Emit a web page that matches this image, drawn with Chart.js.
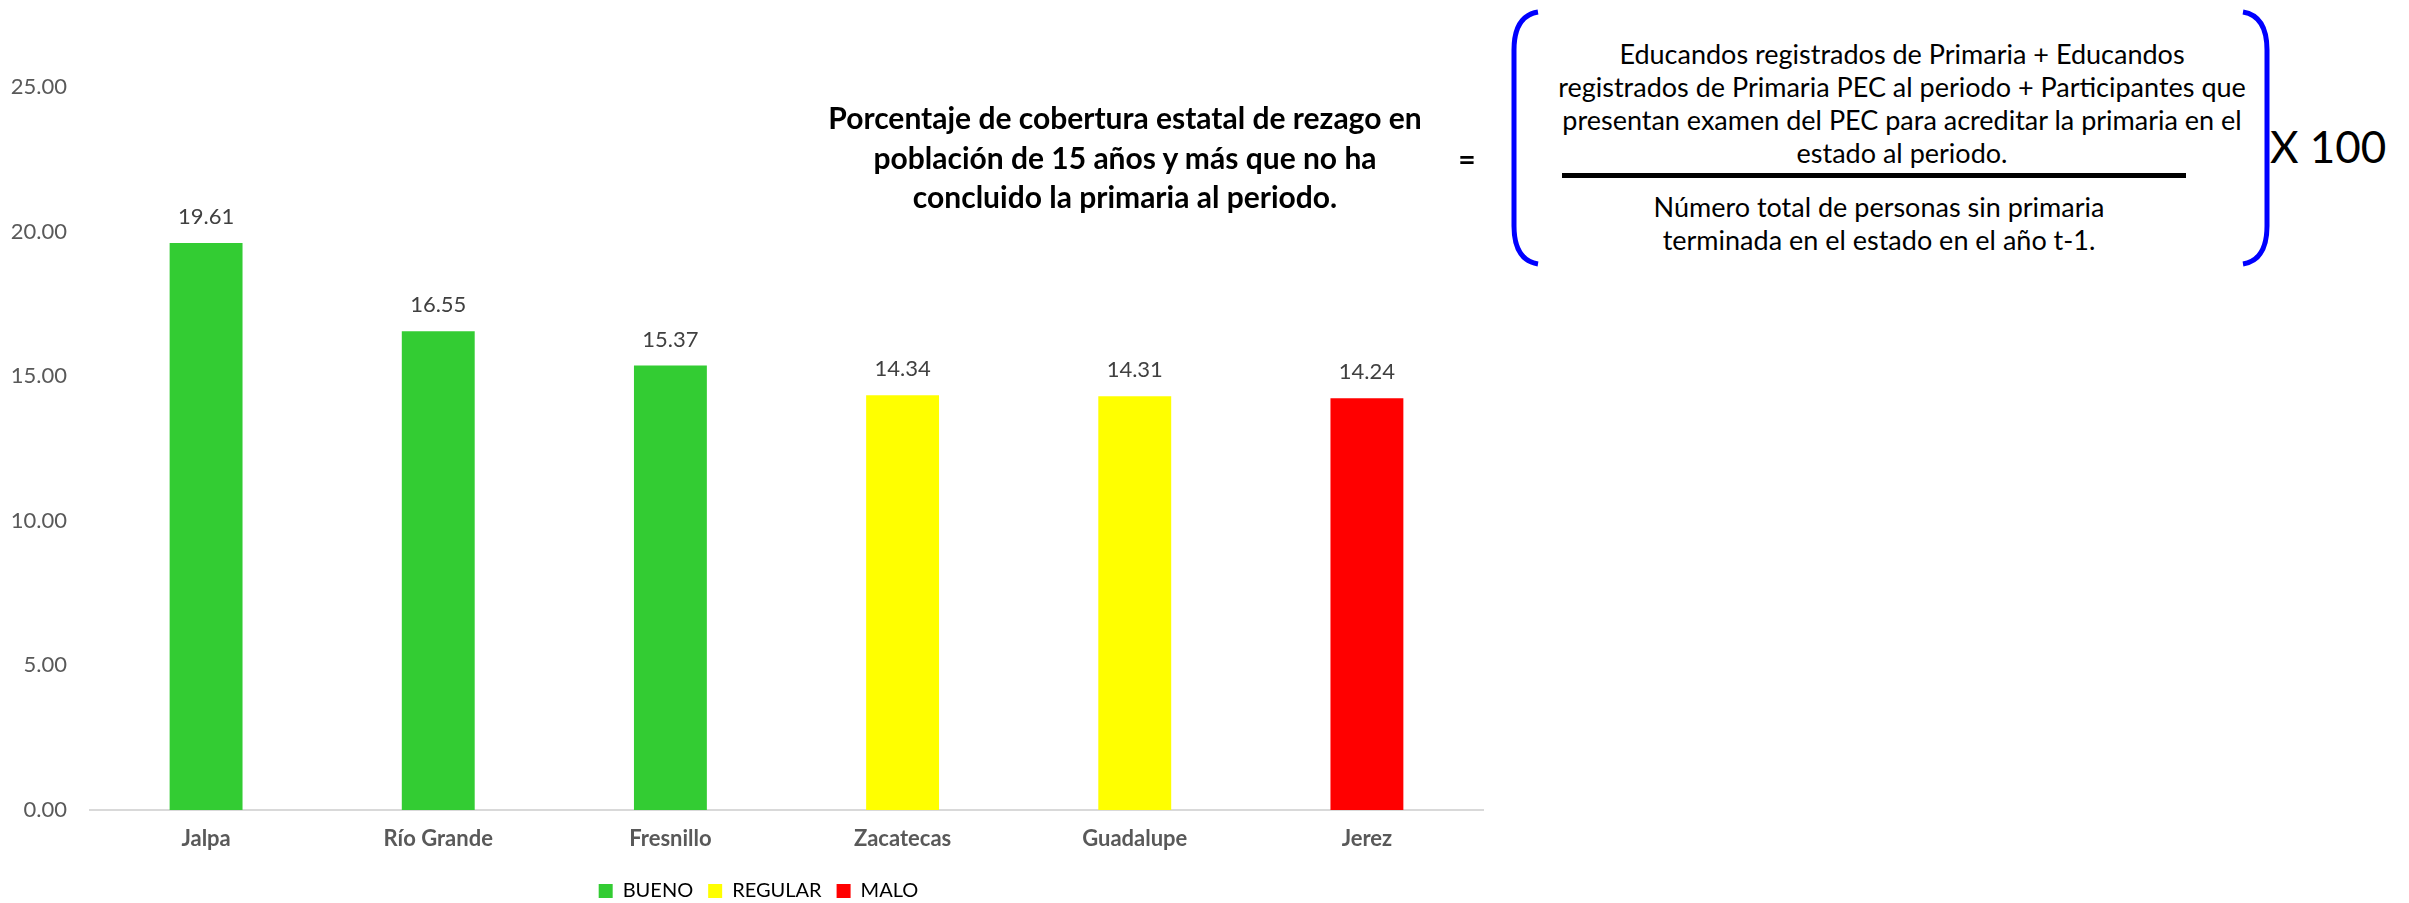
<!DOCTYPE html>
<html lang="es">
<head>
<meta charset="utf-8">
<title>Cobertura de rezago - primaria</title>
<script src="https://cdn.jsdelivr.net/npm/chart.js@4.4.3/dist/chart.umd.min.js"></script>
<style>
  html, body { margin:0; padding:0; background:#fff; }
  body { width:2409px; height:903px; position:relative; overflow:hidden; font-family:Lato, "Open Sans", sans-serif; }
  #chartBox { position:absolute; left:0; top:0; width:1516px; height:911px; }
  .txt { position:absolute; text-align:center; white-space:nowrap; color:#000; }
  #title { left:775px; width:700px; top:98px; font-size:30px; line-height:39.5px; font-weight:bold; }
  #equals { left:1447px; width:40px; top:138px; font-size:30px; line-height:40px; font-weight:bold; }
  #num { left:1552px; width:700px; top:37px; font-size:27px; line-height:33px; }
  #den { left:1552px; width:654px; top:190px; font-size:27px; line-height:33px; }
  #bar { position:absolute; left:1562px; top:173px; width:624px; height:5px; background:#000; }
  #times { left:2270px; top:118px; font-size:44px; line-height:56px; text-align:left; }
  #brackets { position:absolute; left:0; top:0; }
</style>
</head>
<body>
<div id="chartBox"><canvas id="chart"></canvas></div>

<div id="title" class="txt">Porcentaje de cobertura estatal de rezago en<br>población de 15 años y más que no ha<br>concluido la primaria al periodo.</div>
<div id="equals" class="txt">=</div>
<div id="num" class="txt">Educandos registrados de Primaria + Educandos<br>registrados de Primaria PEC al periodo + Participantes que<br>presentan examen del PEC para acreditar la primaria en el<br>estado al periodo.</div>
<div id="bar"></div>
<div id="den" class="txt">Número total de personas sin primaria<br>terminada en el estado en el año t-1.</div>
<div id="times" class="txt">X 100</div>
<svg id="brackets" width="2409" height="903">
  <path d="M1538 12 Q1514 16 1514 50 L1514 226 Q1514 260 1538 264" fill="none" stroke="#0000ff" stroke-width="5"/>
  <path d="M2243 12 Q2267 16 2267 50 L2267 226 Q2267 260 2243 264" fill="none" stroke="#0000ff" stroke-width="5"/>
</svg>

<script>
// chart data
const categories = ['Jalpa', 'Río Grande', 'Fresnillo', 'Zacatecas', 'Guadalupe', 'Jerez'];
const values = [19.61, 16.55, 15.37, 14.34, 14.31, 14.24];
const status = ['BUENO', 'BUENO', 'BUENO', 'REGULAR', 'REGULAR', 'MALO'];
const statusNames = ['BUENO', 'REGULAR', 'MALO'];
const statusColors = ['#33cc33', '#ffff00', '#ff0000'];
const yTicks = [0, 5, 10, 15, 20, 25];

const barColors = status.map(s => statusColors[statusNames.indexOf(s)]);

// value labels above each bar
const valueLabels = {
  id: 'valueLabels',
  afterDatasetsDraw(chart) {
    const ctx = chart.ctx;
    const meta = chart.getDatasetMeta(0);
    ctx.save();
    ctx.font = '22px Lato, "Open Sans", sans-serif';
    ctx.fillStyle = '#404040';
    ctx.textAlign = 'center';
    ctx.textBaseline = 'middle';
    meta.data.forEach((bar, i) => {
      ctx.fillText(values[i].toFixed(2), bar.x, bar.y - 26);
    });
    ctx.restore();
  }
};

// nudge the legend a bit right, it sits centred on the whole chart in the original
const legendShift = {
  id: 'legendShift',
  afterLayout(chart) {
    if (!chart.legend) return;
    chart.legend.left += 17;
    chart.legend.right += 17;
  }
};

const ctx = document.getElementById('chart').getContext('2d');
new Chart(ctx, {
  type: 'bar',
  data: {
    labels: categories,
    datasets: [{
      label: 'Porcentaje',
      data: values,
      backgroundColor: barColors,
      borderWidth: 0,
      categoryPercentage: 1,
      barPercentage: 0.314
    }]
  },
  options: {
    responsive: true, maintainAspectRatio: false, animation: false,
    layout: { padding: { top: 87, right: 33, bottom: 0, left: 0 } },
    scales: {
      x: {
        grid: { display: false, drawTicks: false },
        border: { display: true, color: '#d9d9d9', width: 2 },
        ticks: { color: '#595959', font: { family: 'Lato', size: 22, weight: 'bold' }, padding: 16 },
        afterFit(scale) { scale.height = 56; }
      },
      y: {
        min: 0, max: 25,
        afterBuildTicks(scale) { scale.ticks = yTicks.map(v => ({ value: v })); },
        grid: { display: false, drawTicks: false },
        border: { display: false },
        ticks: { color: '#595959', font: { family: 'Lato', size: 22 }, padding: 23, callback: v => Number(v).toFixed(2) },
        afterFit(scale) { scale.width = 90; }
      }
    },
    plugins: {
      tooltip: { enabled: false },
      legend: {
        position: 'bottom',
        labels: {
          color: '#595959', font: { family: 'Lato', size: 20 },
          boxWidth: 14, boxHeight: 14, padding: 15,
          generateLabels: () => statusNames.map((n, i) => ({
            text: n, fillStyle: statusColors[i], strokeStyle: statusColors[i], lineWidth: 0, hidden: false, datasetIndex: 0
          }))
        },
        onClick: () => {}
      }
    }
  },
  plugins: [valueLabels, legendShift]
});
</script>
</body>
</html>
